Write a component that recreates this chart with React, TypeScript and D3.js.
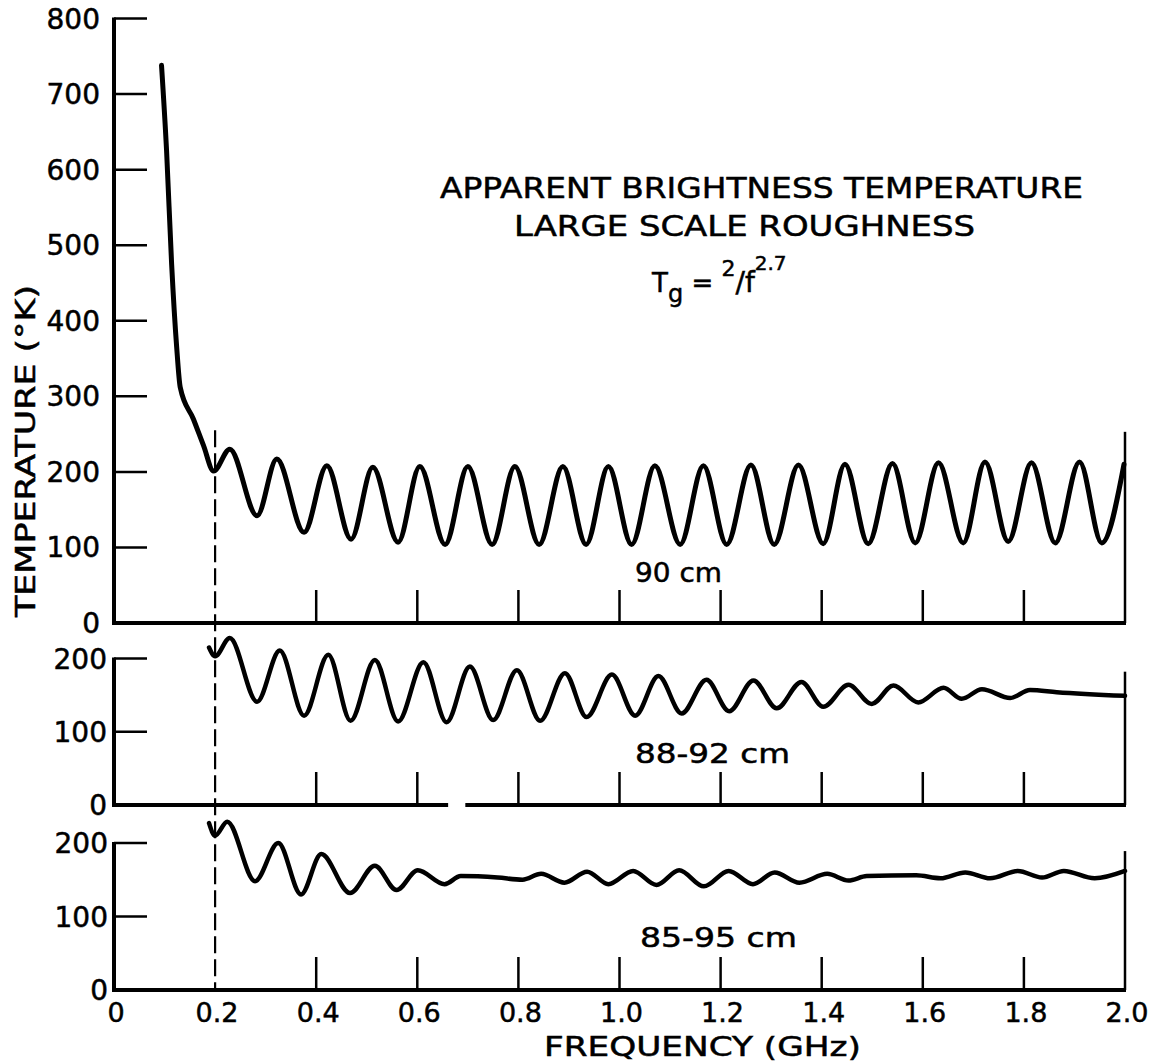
import React from "react";
import * as d3 from "d3";

// ---------- data ----------
const xTickValues = [0, 0.2, 0.4, 0.6, 0.8, 1.0, 1.2, 1.4, 1.6, 1.8, 2.0];
const xTickLabels = ["0", "0.2", "0.4", "0.6", "0.8", "1.0", "1.2", "1.4", "1.6", "1.8", "2.0"];
const innerTickValues = [0.4, 0.6, 0.8, 1.0, 1.2, 1.4, 1.6, 1.8];
const yTicksTop = [100, 200, 300, 400, 500, 600, 700, 800];
const yTicksSmall = [100, 200];

const freq90 = [0.094, 0.104, 0.114, 0.124, 0.131, 0.157, 0.177, 0.197, 0.229, 0.283, 0.322, 0.376, 0.421, 0.469, 0.512, 0.562, 0.605, 0.655, 0.700, 0.748, 0.793, 0.841, 0.888, 0.934, 0.978, 1.024, 1.070, 1.120, 1.166, 1.212, 1.260, 1.306, 1.354, 1.403, 1.446, 1.492, 1.540, 1.585, 1.631, 1.680, 1.723, 1.769, 1.815, 1.862, 1.910, 1.954, 1.998];
const temp90 = [738, 625, 475, 365, 312, 270, 235, 201, 230, 142, 217, 120, 208, 111, 206, 107, 207, 104, 207, 104, 207, 104, 207, 104, 207, 104, 208, 104, 208, 104, 209, 104, 209, 105, 210, 105, 211, 106, 212, 106, 213, 108, 212, 106, 213, 106, 210];

const freq8892 = [0.188, 0.2, 0.229, 0.283, 0.328, 0.376, 0.424, 0.468, 0.516, 0.562, 0.612, 0.658, 0.704, 0.750, 0.797, 0.843, 0.892, 0.935, 0.985, 1.031, 1.077, 1.123, 1.172, 1.217, 1.265, 1.311, 1.360, 1.403, 1.453, 1.499, 1.542, 1.591, 1.641, 1.677, 1.717, 1.773, 1.812, 1.865, 2.0];
const temp8892 = [215, 203, 228, 141, 211, 122, 205, 115, 198, 114, 195, 113, 189, 116, 184, 115, 180, 120, 178, 122, 176, 125, 171, 128, 170, 132, 168, 134, 164, 138, 163, 140, 160, 145, 158, 146, 157, 154, 149];

const freq8595 = [0.188, 0.2, 0.224, 0.279, 0.325, 0.370, 0.410, 0.467, 0.516, 0.559, 0.601, 0.654, 0.686, 0.759, 0.808, 0.845, 0.891, 0.936, 0.978, 1.027, 1.073, 1.118, 1.167, 1.216, 1.264, 1.307, 1.356, 1.411, 1.453, 1.489, 1.587, 1.635, 1.684, 1.733, 1.788, 1.836, 1.879, 1.940, 2.0];
const temp8595 = [227, 210, 229, 148, 200, 130, 185, 132, 169, 136, 163, 144, 155, 153, 150, 158, 146, 161, 144, 162, 143, 163, 141, 162, 144, 160, 146, 158, 149, 155, 156, 152, 160, 152, 162, 153, 162, 152, 162];

const panelLabels = ["90 cm", "88-92 cm", "85-95 cm"];
const axisBreak88 = [0.661, 0.695]; // gap in the middle panel's base line

const FONT = "'DejaVu Sans', Verdana, sans-serif";
const TS = { fill: "#000", stroke: "#000", strokeWidth: 0.5 };

export default function App() {
  const W = 1161, H = 1061;
  const x = d3.scaleLinear().domain([0, 2]).range([114, 1125]);
  const y1 = d3.scaleLinear().domain([0, 800]).range([623, 18.5]);
  const y2 = d3.scaleLinear().domain([0, 200]).range([805, 658.5]);
  const y3 = d3.scaleLinear().domain([0, 200]).range([990, 843]);

  const panels = [
    { y: y1, f: freq90, t: temp90, ticks: yTicksTop, max: 800, border: 253, labelX: 100, lw: 5, label: panelLabels[0], lx: 635, ly: 582, llen: 87 },
    { y: y2, f: freq8892, t: temp8892, ticks: yTicksSmall, max: 200, border: 182, labelX: 107, lw: 4.5, label: panelLabels[1], lx: 635, ly: 763, llen: 155 },
    { y: y3, f: freq8595, t: temp8595, ticks: yTicksSmall, max: 200, border: 189, labelX: 108, lw: 4.5, label: panelLabels[2], lx: 640, ly: 947, llen: 157 },
  ];

  const x0 = x(0);
  const x2 = x(2);

  return (
    <svg width={W} height={H} style={{ position: "absolute", left: 0, top: 0, background: "#fff" }} fontFamily={FONT}>
      <rect x={0} y={0} width={W} height={H} fill="#fff" />
      {panels.map((p, i) => {
        const pts = p.f.map((fv, k) => [fv, p.t[k]] as [number, number]);
        const line = d3.line<[number, number]>().x((d) => x(d[0])).y((d) => p.y(d[1])).curve(d3.curveMonotoneX);
        const base = p.y(0);
        return (
          <g key={i}>
            <line x1={x0} x2={x0} y1={base + 2} y2={p.y(p.max) - 1} stroke="#000" strokeWidth={4} />
            {i === 1 ? (
              <>
                <line x1={x0 - 2} x2={x(axisBreak88[0])} y1={base} y2={base} stroke="#000" strokeWidth={4} />
                <line x1={x(axisBreak88[1])} x2={x2 + 1} y1={base} y2={base} stroke="#000" strokeWidth={4} />
              </>
            ) : (
              <line x1={x0 - 2} x2={x2 + 1} y1={base} y2={base} stroke="#000" strokeWidth={4} />
            )}
            <line x1={x2} x2={x2} y1={base} y2={p.y(p.border)} stroke="#000" strokeWidth={2.5} />
            {p.ticks.map((tv) => (
              <line key={tv} x1={x0} x2={x0 + 33} y1={p.y(tv)} y2={p.y(tv)} stroke="#000" strokeWidth={2.5} />
            ))}
            {[0, ...p.ticks].map((tv) => (
              <text key={"l" + tv} x={p.labelX} y={p.y(tv) + 10} fontSize={28} textAnchor="end" {...TS}>
                {String(tv)}
              </text>
            ))}
            {innerTickValues.map((fv) => (
              <line key={fv} x1={x(fv)} x2={x(fv)} y1={base} y2={base - 33} stroke="#000" strokeWidth={2.5} />
            ))}
            <path d={line(pts) || ""} fill="none" stroke="#000" strokeWidth={p.lw} strokeLinejoin="round" strokeLinecap="round" />
            <text x={p.lx} y={p.ly} fontSize={27} textLength={p.llen} lengthAdjust="spacingAndGlyphs" {...TS}>
              {p.label}
            </text>
          </g>
        );
      })}

      <line x1={x(0.2)} x2={x(0.2)} y1={y1(255)} y2={y3(0)} stroke="#000" strokeWidth={2.2} strokeDasharray="17 6" />

      {xTickValues.map((v, i) => (
        <text key={v} x={x(v) + 2} y={1022} fontSize={27} textAnchor="middle" {...TS}>
          {xTickLabels[i]}
        </text>
      ))}
      <text x={544} y={1056} fontSize={26} textLength={317} lengthAdjust="spacingAndGlyphs" {...TS}>
        FREQUENCY (GHz)
      </text>

      <text transform="translate(35,451) rotate(-90)" fontSize={27} textAnchor="middle" textLength={332} lengthAdjust="spacingAndGlyphs" {...TS}>
        TEMPERATURE (°K)
      </text>

      <text x={440} y={198} fontSize={29} textLength={643} lengthAdjust="spacingAndGlyphs" {...TS}>
        APPARENT BRIGHTNESS TEMPERATURE
      </text>
      <text x={514} y={236} fontSize={28} textLength={461} lengthAdjust="spacingAndGlyphs" {...TS}>
        LARGE SCALE ROUGHNESS
      </text>
      <text x={652} y={292} fontSize={26} {...TS}>
        T
        <tspan fontSize={24} dy={10}>g</tspan>
        <tspan dy={-10}> = </tspan>
        <tspan fontSize={22} dy={-16}>2</tspan>
        <tspan dy={16} fontSize={28}>/f</tspan>
        <tspan fontSize={20} dy={-22}>2.7</tspan>
      </text>
    </svg>
  );
}
